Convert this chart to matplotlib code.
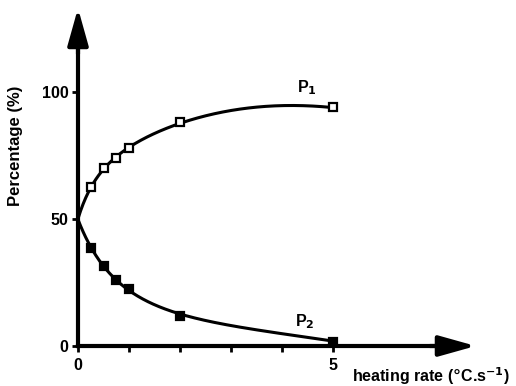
import numpy as np
import matplotlib.pyplot as plt

# heating rate (C/s) and phase percentages
rate = [0, 0.25, 0.5, 0.75, 1.0, 2.0, 5.0]
p1 = [50, 62.5, 70, 74, 78, 88, 94]
p2 = [50, 38.5, 31.5, 26, 22.5, 12, 1.5]

# extra readings of the drawn curves between the last two points
curve_rate = [2.65, 3.3, 4.0, 4.6]
p1_curve = [91.5, 93.5, 94.3, 94.5]
p2_curve = [9.4, 7.0, 5.1, 3.5]


def smooth_line(x, y, xs, deg=4):
    # least squares fit in log(1+x), only to draw the smooth trend line
    v = np.log1p(np.asarray(x, float))
    c = np.polyfit(v, np.asarray(y, float), deg)
    return np.polyval(c, np.log1p(xs))


plt.rcParams['font.family'] = ['Liberation Sans', 'DejaVu Sans']
plt.rcParams['font.weight'] = 'bold'

fig = plt.figure(figsize=(5.16, 3.86), dpi=100)
ax = fig.add_axes([0, 0, 1, 1])
ax.set_xlim(-78 / 51, (516 - 78) / 51)
ax.set_ylim((346 - 386) / 2.54, 346 / 2.54)

xs = np.linspace(0, 5, 300)
ax.plot(xs, smooth_line(rate + curve_rate, p1 + p1_curve, xs), color='black', lw=2.2, zorder=3)
ax.plot(xs, smooth_line(rate + curve_rate, p2 + p2_curve, xs), color='black', lw=2.2, zorder=3)
ax.plot(rate[1:], p1[1:], ls='none', marker='s', ms=5.5, mfc='white', mec='black', mew=1.6, zorder=4)
ax.plot(rate[1:], p2[1:], ls='none', marker='s', ms=5.5, mfc='black', mec='black', mew=1.6, zorder=4)

# axes drawn as arrows
for s in ['top', 'right']:
    ax.spines[s].set_visible(False)
ax.spines['left'].set_position(('data', 0))
ax.spines['bottom'].set_position(('data', 0))
ax.spines['left'].set_linewidth(3)
ax.spines['bottom'].set_linewidth(3)
ax.spines['left'].set_bounds(0, 120)
ax.spines['bottom'].set_bounds(0, 7.0)
astyle = '-|>,head_length=1.5,head_width=0.42'
ax.annotate('', xy=(0, 133), xytext=(0, 115),
            arrowprops=dict(arrowstyle=astyle, lw=3, color='black',
                            shrinkA=0, shrinkB=0, mutation_scale=15))
ax.annotate('', xy=(7.8, 0), xytext=(6.9, 0),
            arrowprops=dict(arrowstyle=astyle, lw=3, color='black',
                            shrinkA=0, shrinkB=0, mutation_scale=15))

ax.set_yticks([0, 50, 100])
ax.set_yticklabels(['0', '50', '100'], fontweight='bold')
ax.set_xticks([0, 1, 2, 3, 4, 5])
ax.set_xticklabels(['0', '', '', '', '', '5'], fontweight='bold')
ax.tick_params(axis='both', direction='out', length=4, width=2, labelsize=11.5)
ax.tick_params(axis='x', pad=5)
ax.tick_params(axis='y', pad=3)

fig.text(16 / 516, 1 - 146 / 386, 'Percentage (%)', rotation=90, ha='center', va='center',
         fontsize=12, fontweight='bold')
fig.text(510 / 516, 1 - 376 / 386, r'heating rate ($\degree$C.s$^{\mathbf{-1}}$)',
         ha='right', va='center', fontsize=11.5, fontweight='bold')
ax.text(4.3, 98, r'P$_{\mathbf{1}}$', ha='left', va='bottom', fontsize=11.5, fontweight='bold')
ax.text(4.25, 6, r'P$_{\mathbf{2}}$', ha='left', va='bottom', fontsize=11.5, fontweight='bold')

fig.savefig('out.png', dpi=100)
